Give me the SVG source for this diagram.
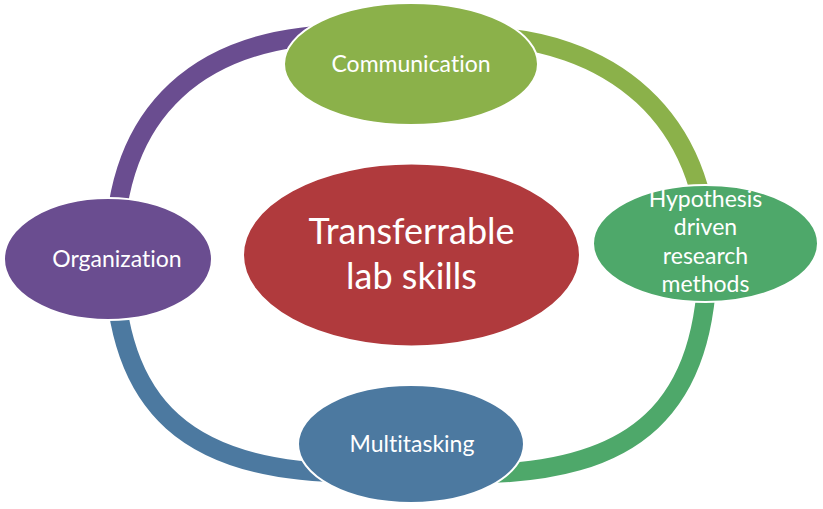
<svg xmlns="http://www.w3.org/2000/svg" width="823" height="509" viewBox="0 0 823 509">
<style>
.arc{fill:none;stroke-width:19;stroke-linecap:butt}
.node{stroke:#ffffff;stroke-width:2}
.lbl{font-family:Lato,"Open Sans","Liberation Sans",sans-serif;fill:#ffffff;text-anchor:middle;font-variant-ligatures:none;font-feature-settings:"liga" 0,"clig" 0}
.s{font-size:23px}
.b{font-size:36px}
</style>
<rect width="823" height="509" fill="#ffffff"/>
<g id="connectors">
<path class="arc" stroke="#6A4D90" d="M411 34 L352 34 C200 34 114 110 114 258"/>
<path class="arc" stroke="#8BB14A" d="M411 36 L470 36 C613 36 708 121 708 258"/>
<path class="arc" stroke="#4EA86A" d="M708 250 C708 408 637 474 470 474"/>
<path class="arc" stroke="#4C79A0" d="M114 255 C114 408 190 473 352 473"/>
</g>
<g id="center">
<ellipse class="node" cx="411.5" cy="255" rx="168.5" ry="91.5" fill="#B03A3D"/>
<text class="lbl b" x="411.5" y="244">Transferrable</text>
<text class="lbl b" x="411.5" y="289">lab skills</text>
</g>
<g id="communication">
<ellipse class="node" cx="411" cy="64" rx="127" ry="61" fill="#8BB14A"/>
<text class="lbl s" x="411" y="72">Communication</text>
</g>
<g id="hypothesis">
<ellipse class="node" cx="705.5" cy="243.5" rx="112.5" ry="58.5" fill="#4EA86A"/>
<text class="lbl s" x="705.5" y="207">Hypothesis</text>
<text class="lbl s" x="705.5" y="235">driven</text>
<text class="lbl s" x="705.5" y="264">research</text>
<text class="lbl s" x="705.5" y="292">methods</text>
</g>
<g id="organization">
<ellipse class="node" cx="108" cy="259" rx="104" ry="61" fill="#6A4D90"/>
<text class="lbl s" x="117" y="267">Organization</text>
</g>
<g id="multitasking">
<ellipse class="node" cx="411" cy="444" rx="113" ry="59" fill="#4C79A0"/>
<text class="lbl s" x="412" y="452">Multitasking</text>
</g>
</svg>
